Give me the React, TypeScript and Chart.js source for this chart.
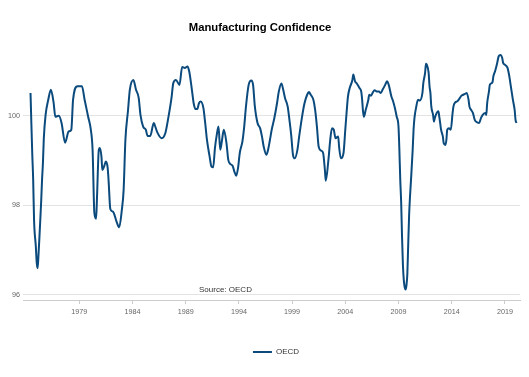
import React, { useEffect, useRef } from "react";
import { Chart, registerables } from "chart.js";

Chart.register(...registerables);

const chartTitle = "Manufacturing Confidence";
const seriesName = "OECD";
const sourceNote = "Source: OECD";

const months = [
  "1974-06", "1974-07", "1974-08", "1974-09", "1974-10", "1974-12", "1975-01", "1975-02", "1975-03", "1975-04",
  "1975-05", "1975-06", "1975-07", "1975-08", "1975-09", "1975-11", "1976-02", "1976-05", "1976-08", "1976-10",
  "1977-02", "1977-05", "1977-09", "1978-01", "1978-04", "1978-06", "1978-11", "1979-04", "1979-07", "1979-11",
  "1980-02", "1980-04", "1980-06", "1980-08", "1980-09", "1980-11", "1980-12", "1981-02", "1981-03", "1981-05",
  "1981-07", "1981-09", "1981-10", "1981-12", "1982-03", "1982-07", "1982-10", "1983-01", "1983-03", "1983-05",
  "1983-08", "1983-10", "1984-02", "1984-05", "1984-08", "1984-10", "1985-01", "1985-04", "1985-06", "1985-09",
  "1986-01", "1986-02", "1986-05", "1986-10", "1987-02", "1987-05", "1987-09", "1987-11", "1988-02", "1988-06",
  "1988-09", "1988-12", "1989-03", "1989-05", "1989-08", "1989-10", "1989-12", "1990-02", "1990-04", "1990-06",
  "1990-09", "1990-11", "1991-01", "1991-04", "1991-06", "1991-08", "1991-10", "1991-12", "1992-02", "1992-04",
  "1992-06", "1992-08", "1992-11", "1993-01", "1993-03", "1993-06", "1993-08", "1993-10", "1993-12", "1994-02",
  "1994-05", "1994-07", "1994-09", "1994-12", "1995-03", "1995-05", "1995-07", "1995-10", "1996-01", "1996-03",
  "1996-05", "1996-08", "1996-10", "1996-12", "1997-02", "1997-05", "1997-08", "1997-10", "1998-01", "1998-03",
  "1998-05", "1998-08", "1998-10", "1998-12", "1999-02", "1999-04", "1999-07", "1999-09", "1999-12", "2000-03",
  "2000-06", "2000-08", "2000-10", "2001-01", "2001-03", "2001-05", "2001-07", "2001-10", "2001-12", "2002-02",
  "2002-03", "2002-06", "2002-08", "2002-10", "2002-12", "2003-02", "2003-05", "2003-06", "2003-08", "2003-11",
  "2004-01", "2004-03", "2004-04", "2004-06", "2004-09", "2004-10", "2004-12", "2005-02", "2005-05", "2005-07",
  "2005-08", "2005-09", "2005-10", "2005-12", "2006-03", "2006-04", "2006-06", "2006-08", "2006-10", "2007-01",
  "2007-03", "2007-05", "2007-07", "2007-10", "2007-12", "2008-02", "2008-05", "2008-07", "2008-09", "2008-11",
  "2009-01", "2009-02", "2009-03", "2009-04", "2009-05", "2009-06", "2009-07", "2009-08", "2009-09", "2009-10",
  "2009-11", "2009-12", "2010-01", "2010-02", "2010-03", "2010-05", "2010-06", "2010-07", "2010-09", "2010-11",
  "2011-01", "2011-04", "2011-05", "2011-07", "2011-08", "2011-09", "2011-11", "2011-12", "2012-01", "2012-02",
  "2012-04", "2012-05", "2012-06", "2012-08", "2012-10", "2012-11", "2012-12", "2013-01", "2013-03", "2013-04",
  "2013-06", "2013-07", "2013-08", "2013-10", "2013-12", "2014-02", "2014-03", "2014-05", "2014-07", "2014-09",
  "2014-12", "2015-02", "2015-04", "2015-06", "2015-08", "2015-09", "2015-11", "2016-01", "2016-03", "2016-06",
  "2016-08", "2016-10", "2016-12", "2017-03", "2017-04", "2017-05", "2017-07", "2017-08", "2017-11", "2017-12",
  "2018-02", "2018-04", "2018-06", "2018-08", "2018-10", "2018-11", "2019-01", "2019-04", "2019-06", "2019-08",
  "2019-10", "2019-12", "2020-01", "2020-02",
];

const oecd = [
  100.51, 99.8, 99.13, 98.57, 97.67, 97.08, 96.72, 96.6, 96.9, 97.27,
  97.67, 98.08, 98.57, 98.95, 99.5, 100.02, 100.36, 100.58, 100.3, 99.98,
  100.0, 99.84, 99.4, 99.65, 99.69, 100.36, 100.66, 100.66, 100.36, 99.98,
  99.69, 99.24, 97.83, 97.7, 98.19, 99.24, 99.28, 99.09, 98.79, 98.87,
  98.98, 98.84, 98.57, 97.92, 97.86, 97.64, 97.51, 97.9, 98.34, 99.46,
  100.13, 100.58, 100.8, 100.58, 100.4, 100.02, 99.76, 99.69, 99.55, 99.55,
  99.84, 99.8, 99.63, 99.5, 99.61, 99.91, 100.4, 100.73, 100.8, 100.69,
  101.09, 101.07, 101.1, 100.99, 100.58, 100.28, 100.15, 100.15, 100.28, 100.32,
  100.17, 99.84, 99.46, 99.09, 98.87, 98.85, 99.28, 99.57, 99.76, 99.24,
  99.46, 99.69, 99.39, 99.02, 98.93, 98.88, 98.75, 98.66, 98.83, 99.17,
  99.43, 99.76, 100.21, 100.69, 100.79, 100.69, 100.21, 99.84, 99.72, 99.54,
  99.31, 99.13, 99.25, 99.46, 99.69, 99.95, 100.28, 100.54, 100.72, 100.58,
  100.4, 100.21, 99.91, 99.57, 99.13, 99.05, 99.24, 99.54, 99.95, 100.28,
  100.47, 100.53, 100.47, 100.36, 100.13, 99.76, 99.31, 99.22, 99.17, 98.79,
  98.55, 99.02, 99.46, 99.72, 99.69, 99.5, 99.54, 99.31, 99.05, 99.17,
  99.69, 100.21, 100.43, 100.62, 100.8, 100.92, 100.77, 100.72, 100.62, 100.54,
  100.36, 100.1, 99.98, 100.13, 100.36, 100.47, 100.45, 100.52, 100.57, 100.54,
  100.54, 100.51, 100.58, 100.69, 100.77, 100.69, 100.43, 100.32, 100.17, 99.98,
  99.76, 99.24, 98.57, 98.08, 97.3, 96.67, 96.33, 96.17, 96.12, 96.22,
  96.48, 97.15, 97.79, 98.2, 98.53, 99.24, 99.69, 99.95, 100.2, 100.36,
  100.34, 100.51, 100.73, 100.96, 101.16, 101.14, 100.96, 100.66, 100.51, 100.21,
  100.02, 99.87, 99.95, 100.06, 100.1, 99.98, 99.84, 99.69, 99.54, 99.39,
  99.35, 99.46, 99.69, 99.72, 99.69, 100.06, 100.21, 100.3, 100.32, 100.36,
  100.45, 100.47, 100.49, 100.51, 100.36, 100.21, 100.13, 100.06, 99.91, 99.85,
  99.84, 99.95, 100.02, 100.06, 100.02, 100.28, 100.54, 100.69, 100.75, 100.88,
  101.0, 101.15, 101.33, 101.36, 101.29, 101.18, 101.14, 101.07, 100.88, 100.62,
  100.36, 100.13, 99.91, 99.84,
];

const xTickYears = [1979, 1984, 1989, 1994, 1999, 2004, 2009, 2014, 2019];
const yTickValues = [96, 98, 100];

const FONT = "'Liberation Sans', Arial, sans-serif";
const LINE_COLOR = "#0b4a7d";

const toYear = (m: string) => {
  const [y, mo] = m.split("-").map(Number);
  return y + (mo - 1) / 12;
};

const sourcePlugin = {
  id: "sourceNote",
  afterLayout(chart: any) {
    const lg = chart.legend;
    if (lg) {
      lg.left += 16;
      lg.right += 16;
    }
  },
  afterDraw(chart: any) {
    const { ctx, chartArea } = chart;
    ctx.save();
    ctx.font = `8px ${FONT}`;
    ctx.fillStyle = "#333333";
    ctx.textBaseline = "middle";
    ctx.textAlign = "left";
    ctx.fillText(sourceNote, chartArea.left + 176, chartArea.bottom - 10);
    ctx.restore();
  },
};

export default function App() {
  const ref = useRef<HTMLCanvasElement | null>(null);

  useEffect(() => {
    if (!ref.current) return;
    const chart = new Chart(ref.current, {
      type: "line",
      data: {
        datasets: [
          {
            label: seriesName,
            data: months.map((m, i) => ({ x: toYear(m), y: oecd[i] })),
            borderColor: LINE_COLOR,
            backgroundColor: LINE_COLOR,
            borderWidth: 2,
            pointRadius: 0,
            cubicInterpolationMode: "monotone",
            fill: false,
          },
        ],
      },
      options: {
        responsive: false,
        animation: false,
        layout: { padding: { top: 0, left: 0, right: 9, bottom: 11 } },
        plugins: {
          title: {
            display: true,
            text: chartTitle,
            color: "#000000",
            font: { family: FONT, size: 11.3, weight: "bold" },
            padding: { top: 21, bottom: 15.4 },
          },
          legend: {
            display: true,
            position: "bottom",
            labels: {
              usePointStyle: true,
              pointStyle: "line",
              pointStyleWidth: 19,
              color: "#333333",
              font: { family: FONT, size: 8 },
              padding: 10,
            },
          },
          tooltip: { enabled: false },
        },
        scales: {
          x: {
            type: "linear",
            min: 1973.71,
            max: 2020.42,
            afterBuildTicks: (scale: any) => {
              scale.ticks = xTickYears.map((v) => ({ value: v }));
            },
            afterFit: (scale: any) => {
              scale.height = 38;
            },
            ticks: {
              callback: (v: any) => String(v),
              color: "#666666",
              font: { family: FONT, size: 7.2 },
              padding: 4,
              maxRotation: 0,
              autoSkip: false,
            },
            grid: {
              display: true,
              drawOnChartArea: false,
              drawTicks: true,
              tickLength: 4,
              color: "#cccccc",
            },
            border: { display: true, color: "#cccccc", width: 1 },
          },
          y: {
            type: "linear",
            min: 95.888,
            max: 101.47,
            afterBuildTicks: (scale: any) => {
              scale.ticks = yTickValues.map((v) => ({ value: v }));
            },
            afterFit: (scale: any) => {
              scale.width = 23;
            },
            ticks: {
              callback: (v: any) => String(v),
              color: "#666666",
              font: { family: FONT, size: 7.2 },
              padding: 3,
            },
            grid: {
              color: "#e3e3e3",
              drawTicks: false,
            },
            border: { display: false },
          },
        },
      },
      plugins: [sourcePlugin],
    } as any);
    return () => chart.destroy();
  }, []);

  return (
    <div style={{ position: "absolute", left: 0, top: 0, width: 529, height: 377, background: "#ffffff" }}>
      <canvas ref={ref} width={529} height={377} />
    </div>
  );
}
